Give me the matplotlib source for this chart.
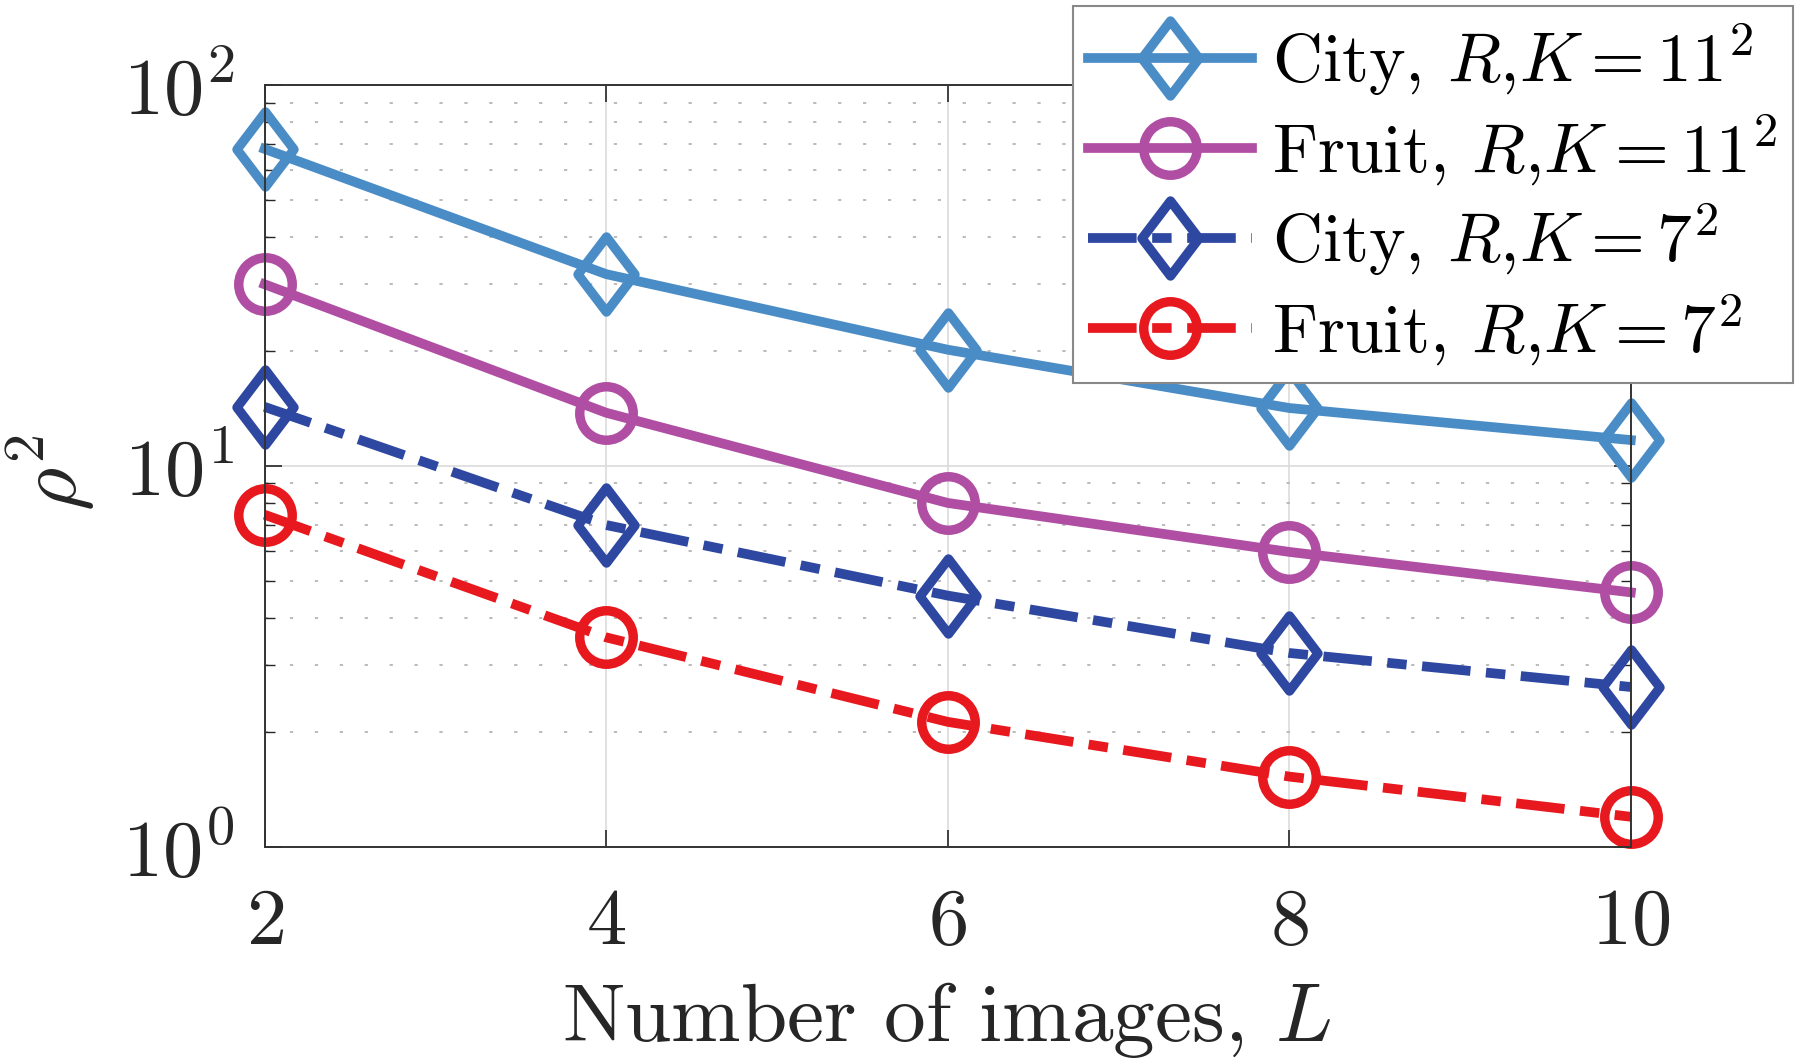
import matplotlib
matplotlib.use('Agg')
import matplotlib.pyplot as plt
from matplotlib.markers import MarkerStyle
from matplotlib.path import Path
from matplotlib.ticker import NullFormatter

# data
L = [2, 4, 6, 8, 10]
city_11 = [68.0, 31.9, 20.2, 14.2, 11.7]
fruit_11 = [30.0, 13.8, 8.0, 5.95, 4.66]
city_7 = [14.3, 7.0, 4.57, 3.23, 2.63]
fruit_7 = [7.45, 3.55, 2.13, 1.53, 1.20]

labels = [r'City, $R$,$K=11^2$', r'Fruit, $R$,$K=11^2$',
          r'City, $R$,$K=7^2$', r'Fruit, $R$,$K=7^2$']
colors = ['#4a8cc6', '#b04ea3', '#2e48a2', '#e8181f']

plt.rcParams.update({
    'font.family': 'cmr10',
    'mathtext.fontset': 'cm',
    'axes.formatter.use_mathtext': True,
    'axes.unicode_minus': False,
})

fig = plt.figure(figsize=(18, 10.64), dpi=100)
ax = fig.add_axes([0.147, 0.204, 0.759, 0.716])

# matlab style diamond, a bit narrower than tall
diamond = MarkerStyle(Path([(0, 1), (0.76, 0), (0, -1), (-0.76, 0), (0, 1)],
                           [1, 2, 2, 2, 79]), joinstyle='miter')

dashdot = (5.0, 1.6, 2.0, 1.6)

series = [city_11, fruit_11, city_7, fruit_7]
markers = [diamond, 'o', diamond, 'o']
sizes = [54, 38.5, 54, 38.5]
for i, y in enumerate(series):
    line, = ax.plot(L, y, color=colors[i], lw=7, marker=markers[i], ms=sizes[i],
                    mfc='none', mec=colors[i], mew=6.8, clip_on=False,
                    label=labels[i], zorder=2)
    if i >= 2:
        line.set_dashes(dashdot)

ax.set_yscale('log')
ax.set_xlim(2, 10)
ax.set_ylim(1, 100)
ax.set_xticks(L)
ax.yaxis.set_minor_formatter(NullFormatter())

ax.set_axisbelow(True)
ax.grid(True, which='major', color='#dcdcdc', lw=1.2, ls='-')
ax.grid(True, which='minor', axis='y', color='#b5b5b5', lw=1.3, ls=(0, (1.8, 12)))

for s in ax.spines.values():
    s.set_color('#333333')
    s.set_linewidth(1.4)

ax.tick_params(which='both', direction='in', top=True, right=True, colors='#262626')
ax.tick_params(which='major', length=12, width=1.2, labelsize=58)
ax.tick_params(which='minor', length=7, width=1.0)
ax.tick_params(axis='x', which='major', pad=30)
ax.tick_params(axis='y', which='major', pad=22)

fig.text(0.526, 0.022, 'Number of images, $L$', ha='center', va='baseline',
         fontsize=60, color='#262626')
fig.text(0.028, 0.556, r'$\rho^2$', rotation=90, ha='center', va='center',
         fontsize=60, color='#262626')

leg = fig.legend(loc='upper right', bbox_to_anchor=(0.996, 0.994), fontsize=50,
                 fancybox=False, edgecolor='#888888', framealpha=1,
                 handlelength=2.35, handletextpad=0.3, labelspacing=0.2,
                 borderpad=0.22, borderaxespad=0, numpoints=1)
leg.get_frame().set_linewidth(1.5)

fig.savefig('out.png', dpi=100)
